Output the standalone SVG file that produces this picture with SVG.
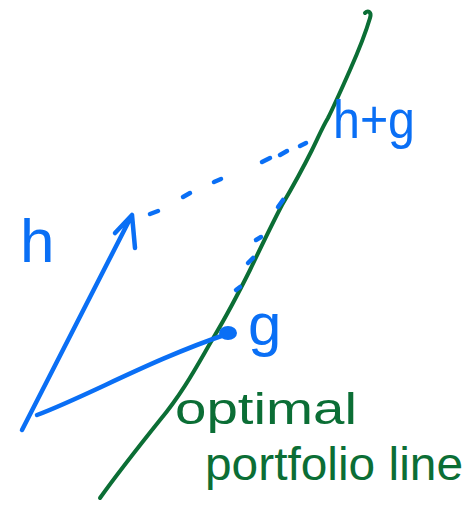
<svg xmlns="http://www.w3.org/2000/svg" width="469" height="510" viewBox="0 0 469 510">
<style>
.b{stroke:#0a6ff5;fill:none;stroke-width:4.5;stroke-linecap:round;stroke-linejoin:round}
.gr{stroke:#0b6e35;fill:none;stroke-width:4;stroke-linecap:round;stroke-linejoin:round}
.tb{fill:#0a6ff5;font-family:"Liberation Sans",Arial,sans-serif}
.tg{fill:#0b6e35;font-family:"Liberation Sans",Arial,sans-serif}
</style>
<rect width="469" height="510" fill="#ffffff"/>
<g id="connectors">
<path class="gr" d="M100,498 C120,470 140,445 160,420 C185,390 200,360 215,335 C230,310 240,290 250,270 C262,245 270,228 282,205 C292,188 302,170 312,150 C318,138 322,128 328,118 C335,104 342,88 350,70 C358,52 365,35 370,18 C372,12 368,10 365,13"/>
<path class="b" d="M22,430 L132,215 M115,233 L132,215 L135,248"/>
<path class="b" d="M37,415 C90,395 150,360 230,333"/>
<ellipse cx="228" cy="333" rx="9" ry="7" fill="#0a6ff5"/>
<path class="b" d="M150,214 L158,211 M183,197 L190,193 M214,182 L221,179 M262,162 L270,158 M280,155 L287,151 M300,146 L306,143" />
<path class="b" d="M236,290 L240,287 M248,263 L253,258 M256,240 L261,237 M278,207 L283,200"/>
</g>
<g id="h"><text class="tb" x="20" y="262" font-size="62">h</text></g>
<g id="hg"><text class="tb" x="333" y="138" font-size="54" textLength="82" lengthAdjust="spacingAndGlyphs">h+g</text></g>
<g id="g"><text class="tb" x="248" y="345" font-size="60">g</text></g>
<g id="optimal-portfolio-line">
<text class="tg" x="175" y="424" font-size="44" textLength="182" lengthAdjust="spacingAndGlyphs">optimal</text>
<text class="tg" x="205" y="480" font-size="46" textLength="258" lengthAdjust="spacingAndGlyphs">portfolio line</text>
</g>
</svg>
